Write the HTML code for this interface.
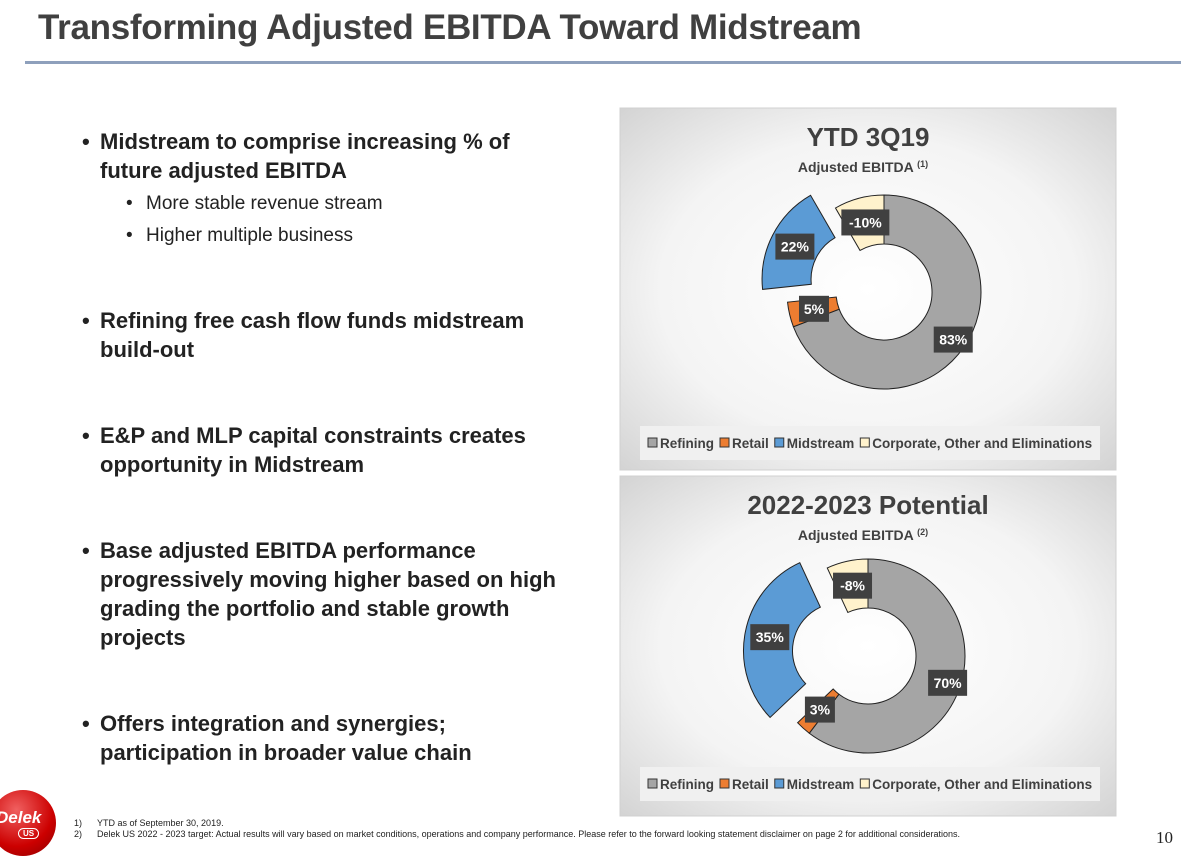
<!DOCTYPE html>
<html><head><meta charset="utf-8"><style>
body{margin:0;width:1192px;height:858px;background:#fff;font-family:"Liberation Sans",sans-serif;position:relative;overflow:hidden}
.abs{position:absolute}
#title{left:38px;top:8px;font-size:35px;font-weight:bold;color:#404040;letter-spacing:-0.3px}
#rule{left:25px;top:61px;width:1156px;height:3px;background:#8ea0bc}
.b1{font-size:22px;font-weight:bold;color:#222;line-height:29px;left:80px;width:462px}
.b1:before{content:"•";position:absolute;left:-18px}
.b2{font-size:19px;color:#222;left:125px}
.b2:before{content:"•";position:absolute;left:-20px}
.fn{font-size:9px;color:#222}
</style></head><body>
<div id="title" class="abs">Transforming Adjusted EBITDA Toward Midstream</div>
<div id="rule" class="abs"></div>

<div class="abs b1" style="top:127px;left:100px">Midstream to comprise increasing % of future adjusted EBITDA</div>
<div class="abs b2" style="top:193px;left:146px">More stable revenue stream</div>
<div class="abs b2" style="top:225px;left:146px">Higher multiple business</div>
<div class="abs b1" style="top:306px;left:100px">Refining free cash flow funds midstream build-out</div>
<div class="abs b1" style="top:421px;left:100px">E&amp;P and MLP capital constraints creates opportunity in Midstream</div>
<div class="abs b1" style="top:536px;left:100px;width:490px">Base adjusted EBITDA performance progressively moving higher based on high grading the portfolio and stable growth projects</div>
<div class="abs b1" style="top:709px;left:100px">Offers integration and synergies; participation in broader value chain</div>

<div class="abs" style="left:-10px;top:790px;width:66px;height:66px;border-radius:50%;background:radial-gradient(circle at 40% 30%,#f06060,#c00 60%,#800);">
<div class="abs" style="left:6px;top:18px;color:#fff;font-weight:bold;font-size:17px;font-style:italic">Delek</div>
<div class="abs" style="left:28px;top:38px;color:#fff;font-size:8px;border:1.5px solid #fff;border-radius:6px;padding:0 4px;font-weight:bold">US</div></div>
<div class="abs fn" style="left:74px;top:818px">1)&nbsp;&nbsp;&nbsp;&nbsp;&nbsp;&nbsp;YTD as of September 30, 2019.</div>
<div class="abs fn" style="left:74px;top:829px">2)&nbsp;&nbsp;&nbsp;&nbsp;&nbsp;&nbsp;Delek US 2022 - 2023 target: Actual results will vary based on market conditions, operations and company performance. Please refer to the forward looking statement disclaimer on page 2 for additional considerations.</div>
<div class="abs" style="left:1156px;top:828px;font-family:'Liberation Serif',serif;font-size:17px;color:#222">10</div>

<svg class="abs" style="left:0;top:0" width="1192" height="858" id="charts">
<defs><radialGradient id="bg" cx="50%" cy="50%" r="70%"><stop offset="0" stop-color="#ffffff"/><stop offset="0.6" stop-color="#f4f4f4"/><stop offset="1" stop-color="#d4d4d4"/></radialGradient></defs>
</svg>
<script>
const categories=["Refining","Retail","Midstream","Corporate, Other and Eliminations"];
const colors=["#a5a5a5","#ed7d31","#5b9bd5","#fff2cc"];
const values1=[83,5,22,-10];
const values2=[70,3,35,-8];
const charts=[
 {vals:values1,title:"YTD 3Q19",sub:"Adjusted EBITDA",sup:"(1)",px:620,py:108,pw:496,ph:362,cx:884,cy:292,leg:426,name:"ytd-3q19"},
 {vals:values2,title:"2022-2023 Potential",sub:"Adjusted EBITDA",sup:"(2)",px:620,py:476,pw:496,ph:340,cx:868,cy:656,leg:767,name:"potential-2022-2023"}
];
const svg=document.getElementById('charts');
const NS="http://www.w3.org/2000/svg";
function mk(t,a,p){const e=document.createElementNS(NS,t);for(const k in a)e.setAttribute(k,a[k]);(p||svg).appendChild(e);return e;}
const R=97,r=48;
function pt(cx,cy,rad,ang){const a=(ang-90)*Math.PI/180;return [cx+rad*Math.cos(a),cy+rad*Math.sin(a)];}
charts.forEach(c=>{
 const g=mk('g',{});
 
 
 const bgr=mk('rect',{x:c.px,y:c.py,width:c.pw,height:c.ph,fill:'url(#bg)',stroke:'#d0d0d0'},g);
 
 
 const t=mk('text',{x:c.px+c.pw/2,y:c.py+38,'text-anchor':'middle','font-size':26,'font-weight':'bold',fill:'#404040'},g);
 t.textContent=c.title;
 
 
 const s=mk('text',{x:c.px+c.pw/2-5,y:c.py+64,'text-anchor':'middle','font-size':14,'font-weight':'bold',fill:'#404040'},g);
 s.innerHTML=c.sub+' <tspan font-size="9" dy="-5">'+c.sup+'</tspan>';
 
 
 const tot=c.vals.reduce((a,b)=>a+Math.abs(b),0);
 let ang=0;
 c.vals.forEach((v,i)=>{
  const sw=Math.abs(v)/tot*360,a0=ang,a1=ang+sw,mid=(a0+a1)/2;ang=a1;
  const ex=i===2?28:0;
  const [ox,oy]=pt(0,0,ex,mid);const cx=c.cx+ox,cy=c.cy+oy;
  const p1=pt(cx,cy,R,a0),p2=pt(cx,cy,R,a1),p3=pt(cx,cy,r,a1),p4=pt(cx,cy,r,a0);
  const lg=sw>180?1:0;
  const path=mk('path',{d:`M${p1}A${R},${R} 0 ${lg} 1 ${p2}L${p3}A${r},${r} 0 ${lg} 0 ${p4}Z`,fill:colors[i],stroke:'#222','stroke-width':1},g);
  
  
  const lr=i===0?84:72;
  const [lx,ly]=pt(cx,cy,lr,mid);
  const txt=v+'%';const w=txt.length*9+12;
  const lb=mk('rect',{x:lx-w/2,y:ly-13,width:w,height:26,fill:'#404040'},g);
  
  
  const lt=mk('text',{x:lx,y:ly+5,'text-anchor':'middle','font-size':14,'font-weight':'bold',fill:'#fff'},g);
  lt.textContent=txt;
  
  
 });
 const lbg=mk('rect',{x:c.px+20,y:c.leg,width:460,height:34,fill:'#f0f0f0'},g);
 
 
 let x=c.px+28;
 categories.forEach((cat,i)=>{
  const sq=mk('rect',{x:x,y:c.leg+12,width:9,height:9,fill:colors[i],stroke:'#333'},g);
  
  
  const lt=mk('text',{x:x+12,y:c.leg+22,'font-size':13.5,'font-weight':'bold',fill:'#404040'},g);
  lt.textContent=cat;
  
  
  x+=12+lt.getComputedTextLength()+6;
 });
});
</script>
</body></html>
